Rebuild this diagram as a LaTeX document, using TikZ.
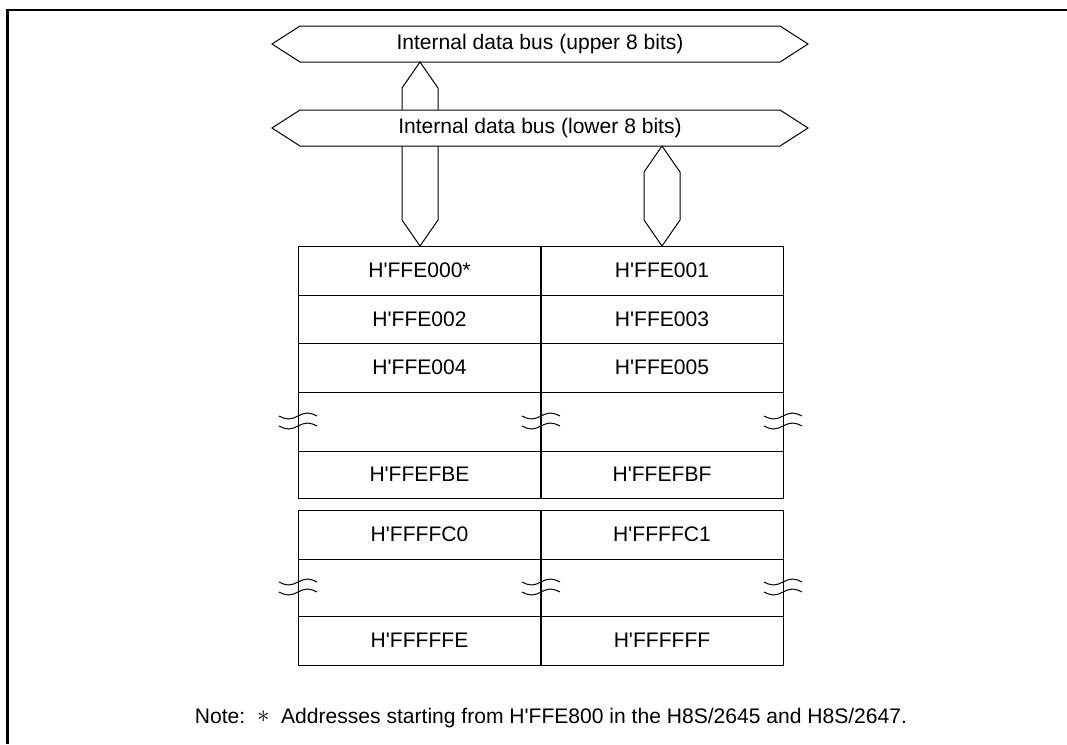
\documentclass[tikz,border=0pt]{standalone}
\usepackage{fontspec}
\setmainfont{Liberation Sans}
\newcommand{\hq}{\textquotesingle}
\begin{document}
\begin{tikzpicture}[x=0.75pt,y=-0.75pt,line width=0.75pt,
  every node/.style={font=\fontsize{15.8}{19}\selectfont},
  cell/.style={draw,minimum width=182.25pt,inner sep=0pt},
  bus/.style={draw,line join=miter},
  frameline/.style={line width=1.8pt}]
\useasboundingbox (0,0) rectangle (1067,744);
% frame
\draw[frameline] (7.5,744) -- (7.5,10) -- (1067,10);
% horizontal buses
\draw[bus] (272,44)--(300,26)--(780,26)--(808,44)--(780,62)--(300,62)--cycle;
\node (ubus) at (540,44) {Internal data bus (upper 8 bits)};
\draw[bus] (272,128)--(300,110)--(780,110)--(808,128)--(780,146)--(300,146)--cycle;
\node (lbus) at (540,128) {Internal data bus (lower 8 bits)};
% vertical buses
\draw[bus] (402,110)--(402,88)--(420,62)--(438,88)--(438,110);
\draw[bus] (402,146)--(402,220)--(420,246)--(438,220)--(438,146);
\draw[bus] (662,146)--(680,172)--(680,220)--(662,246)--(644,220)--(644,172)--cycle;
% block 1
\node[cell,minimum height=36.75pt] (a0) at (419.5,270.5) {H\hq FFE000*};
\node[cell,minimum height=36.75pt] (a1) at (662,270.5) {H\hq FFE001};
\node[cell,minimum height=36pt] (a2) at (419.5,319) {H\hq FFE002};
\node[cell,minimum height=36pt] (a3) at (662,319) {H\hq FFE003};
\node[cell,minimum height=36.75pt] (a4) at (419.5,367.5) {H\hq FFE004};
\node[cell,minimum height=36.75pt] (a5) at (662,367.5) {H\hq FFE005};
\node[cell,minimum height=44.25pt] (ab1) at (419.5,421.5) {};
\node[cell,minimum height=44.25pt] (ab2) at (662,421.5) {};
\node[cell,minimum height=35.25pt] (a6) at (419.5,474.5) {H\hq FFEFBE};
\node[cell,minimum height=35.25pt] (a7) at (662,474.5) {H\hq FFEFBF};
% block 2
\node[cell,minimum height=36.75pt] (b0) at (419.5,534.5) {H\hq FFFFC0};
\node[cell,minimum height=36.75pt] (b1) at (662,534.5) {H\hq FFFFC1};
\node[cell,minimum height=42.75pt] (bb1) at (419.5,587.5) {};
\node[cell,minimum height=42.75pt] (bb2) at (662,587.5) {};
\node[cell,minimum height=36.75pt] (b2) at (419.5,640.5) {H\hq FFFFFE};
\node[cell,minimum height=36.75pt] (b3) at (662,640.5) {H\hq FFFFFF};
% break marks
\foreach \y in {416,426,582,592}{
  \foreach \x in {298,541,783}{
    \draw (\x-19,\y) sin (\x-9.5,\y+3) cos (\x,\y) sin (\x+9.5,\y-3) cos (\x+19,\y);
  }
}
% note
\node[anchor=west] (note) at (190,718) {Note:\ \ \raisebox{0.5pt}{\scalebox{1.3}{$\ast$}}\ \ Addresses starting from H\hq FFE800 in the H8S/2645 and H8S/2647.};
\end{tikzpicture}
\end{document}
